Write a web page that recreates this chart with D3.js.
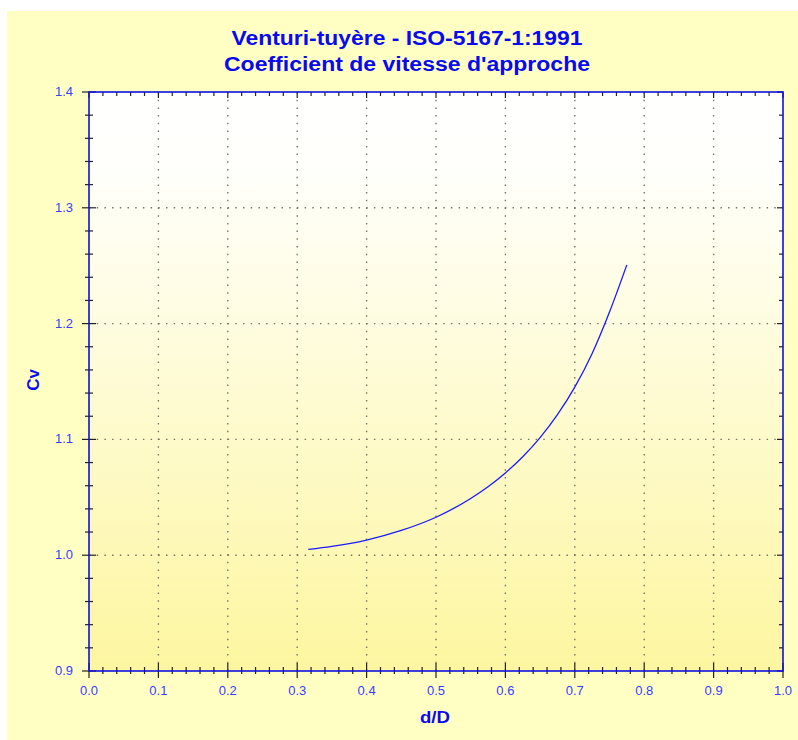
<!DOCTYPE html>
<html>
<head>
<meta charset="utf-8">
<script src="https://cdn.jsdelivr.net/npm/d3@7"></script>
<style>
  body { margin: 0; background: #ffffff; overflow: hidden; }
  text { font-family: "Liberation Sans", Arial, sans-serif; }
</style>
</head>
<body>
<div id="chart"></div>
<script>
// values
var ratioValues = [0.316, 0.35, 0.40, 0.45, 0.50, 0.55, 0.575, 0.60, 0.625, 0.65, 0.675, 0.70, 0.725, 0.75, 0.775];
var cvValues = [1.005, 1.0076, 1.0131, 1.0214, 1.0328, 1.0490, 1.0591, 1.0710, 1.0850, 1.1015, 1.1213, 1.1451, 1.1742, 1.2100, 1.2507];
var xTicks = [0.0, 0.1, 0.2, 0.3, 0.4, 0.5, 0.6, 0.7, 0.8, 0.9, 1.0];
var yTicks = [0.9, 1.0, 1.1, 1.2, 1.3, 1.4];
var titleLines = ["Venturi-tuyère - ISO-5167-1:1991", "Coefficient de vitesse d'approche"];
var titleWidths = [351, 366];

var svgWidth = 798;
var svgHeight = 740;
var margin = { top: 92, right: 15, bottom: 69, left: 89 };
var width = svgWidth - margin.left - margin.right;
var height = svgHeight - margin.top - margin.bottom;

var svg = d3.select("#chart")
  .append("svg")
  .attr("width", svgWidth)
  .attr("height", svgHeight)
  .style("display", "block");

// plot gradient
var defs = svg.append("defs");
var grad = defs.append("linearGradient")
  .attr("id", "plotBg")
  .attr("x1", 0).attr("y1", 0).attr("x2", 0).attr("y2", 1);
grad.append("stop").attr("offset", "0%").attr("stop-color", "#ffffff");
grad.append("stop").attr("offset", "15%").attr("stop-color", "#fffffa");
grad.append("stop").attr("offset", "100%").attr("stop-color", "#fdf6a0");

// outer panel
svg.append("rect")
  .attr("x", 7).attr("y", 11)
  .attr("width", svgWidth - 7).attr("height", svgHeight - 11)
  .attr("fill", "#ffffc4");

var chartGroup = svg.append("g")
  .attr("transform", `translate(${margin.left}, ${margin.top})`);

chartGroup.append("rect")
  .attr("width", width).attr("height", height)
  .attr("fill", "url(#plotBg)");

var xScale = d3.scaleLinear().domain([0, 1]).range([0, width]);
var yScale = d3.scaleLinear().domain([0.9, 1.4]).range([height, 0]);

// grid lines
chartGroup.selectAll(".vgrid")
  .data(xTicks.slice(1, -1))
  .enter()
  .append("line")
  .attr("x1", d => xScale(d)).attr("x2", d => xScale(d))
  .attr("y1", 0).attr("y2", height)
  .attr("stroke", "#777766")
  .attr("stroke-width", 1.4)
  .attr("stroke-dasharray", "1.5,6.2");

chartGroup.selectAll(".hgrid")
  .data(yTicks.slice(1, -1))
  .enter()
  .append("line")
  .attr("y1", d => yScale(d)).attr("y2", d => yScale(d))
  .attr("x1", 0).attr("x2", width)
  .attr("stroke", "#777766")
  .attr("stroke-width", 1.4)
  .attr("stroke-dasharray", "1.5,6.2");

// minor + major ticks
var xMinor = d3.range(0, 51).map(i => i / 50);
var yMinor = d3.range(0, 26).map(i => 0.9 + i / 50);

function isMajor(i) { return i % 5 === 0; }

// bottom
chartGroup.selectAll(".xb")
  .data(xMinor)
  .enter()
  .append("line")
  .attr("x1", d => xScale(d)).attr("x2", d => xScale(d))
  .attr("y1", (d, i) => height - (isMajor(i) ? 8 : 4))
  .attr("y2", (d, i) => height + (isMajor(i) ? 7 : 3))
  .attr("stroke", "#222222").attr("stroke-width", 1.2);
// top
chartGroup.selectAll(".xt")
  .data(xMinor)
  .enter()
  .append("line")
  .attr("x1", d => xScale(d)).attr("x2", d => xScale(d))
  .attr("y1", 0)
  .attr("y2", (d, i) => isMajor(i) ? 6 : 4)
  .attr("stroke", "#222222").attr("stroke-width", 1.2);
// left
chartGroup.selectAll(".yl")
  .data(yMinor)
  .enter()
  .append("line")
  .attr("y1", d => yScale(d)).attr("y2", d => yScale(d))
  .attr("x1", (d, i) => isMajor(i) ? -7 : -4)
  .attr("x2", (d, i) => isMajor(i) ? 7 : 4)
  .attr("stroke", "#222222").attr("stroke-width", 1.2);
// right
chartGroup.selectAll(".yr")
  .data(yMinor)
  .enter()
  .append("line")
  .attr("y1", d => yScale(d)).attr("y2", d => yScale(d))
  .attr("x1", width)
  .attr("x2", (d, i) => width - (isMajor(i) ? 6 : 4))
  .attr("stroke", "#222222").attr("stroke-width", 1.2);

// frame
chartGroup.append("rect")
  .attr("width", width).attr("height", height)
  .attr("fill", "none")
  .attr("stroke", "#1010e0")
  .attr("stroke-width", 1.6);

// tick labels
chartGroup.selectAll(".xlab")
  .data(xTicks)
  .enter()
  .append("text")
  .attr("x", d => xScale(d))
  .attr("y", height + 24)
  .attr("text-anchor", "middle")
  .attr("font-size", "13px")
  .attr("fill", "#3c3cff")
  .text(d => d.toFixed(1));

chartGroup.selectAll(".ylab")
  .data(yTicks)
  .enter()
  .append("text")
  .attr("x", -16)
  .attr("y", d => yScale(d) + 4)
  .attr("text-anchor", "end")
  .attr("font-size", "13px")
  .attr("fill", "#3c3cff")
  .text(d => d.toFixed(1));

// curve
var points = ratioValues.map((r, i) => [r, cvValues[i]]);
var line = d3.line()
  .x(d => xScale(d[0]))
  .y(d => yScale(d[1]))
  .curve(d3.curveMonotoneX);

chartGroup.append("path")
  .datum(points)
  .attr("d", line)
  .attr("fill", "none")
  .attr("stroke", "#1a1aff")
  .attr("stroke-width", 1.3);

// titles
svg.selectAll(".title")
  .data(titleLines)
  .enter()
  .append("text")
  .attr("x", 407)
  .attr("y", (d, i) => 45 + i * 26)
  .attr("text-anchor", "middle")
  .attr("font-size", "20px")
  .attr("font-weight", "bold")
  .attr("fill", "#0a0aee")
  .attr("textLength", (d, i) => titleWidths[i])
  .attr("lengthAdjust", "spacingAndGlyphs")
  .text(d => d);

// axis labels
svg.append("text")
  .attr("x", 435)
  .attr("y", 723)
  .attr("text-anchor", "middle")
  .attr("font-size", "16px")
  .attr("font-weight", "bold")
  .attr("fill", "#0a0aee")
  .attr("textLength", 30)
  .attr("lengthAdjust", "spacingAndGlyphs")
  .text("d/D");

svg.append("text")
  .attr("transform", "rotate(-90)")
  .attr("x", -380)
  .attr("y", 39)
  .attr("text-anchor", "middle")
  .attr("font-size", "17px")
  .attr("font-weight", "bold")
  .attr("fill", "#0a0aee")
  .text("Cv");
</script>
</body>
</html>
